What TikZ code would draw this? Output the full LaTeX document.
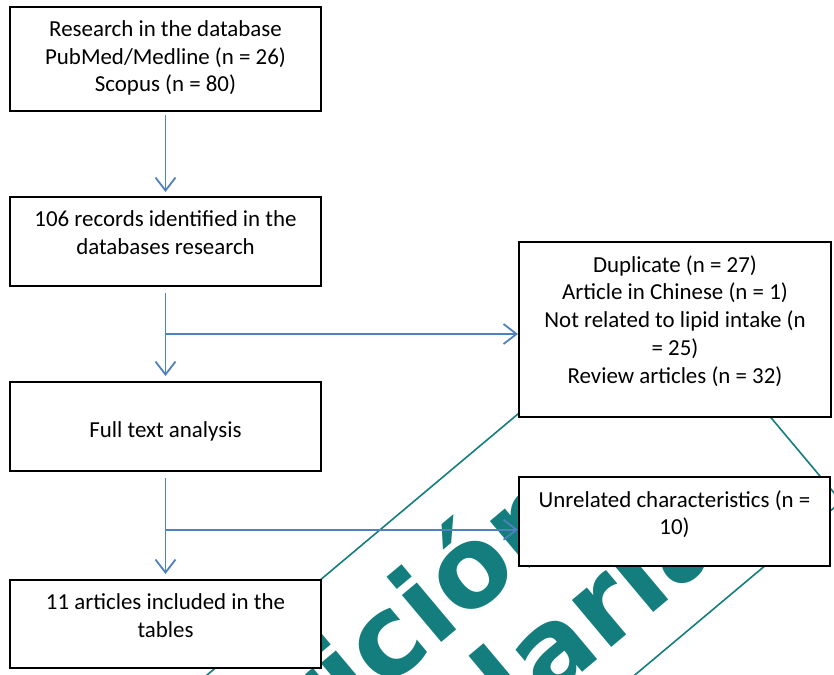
\documentclass[tikz,border=0pt]{standalone}
\usepackage{fontspec}
\setmainfont{Carlito}
\newfontfamily\markfont{DejaVu Sans}
\usetikzlibrary{calc}
\usetikzlibrary{arrows.meta}

\definecolor{flowblue}{RGB}{79,129,189}
\definecolor{markteal}{RGB}{20,125,125}

\tikzset{
 box/.style={draw=black, line width=1pt, fill=white, minimum width=155.5pt},
 boxtext/.style={anchor=north, align=center, inner sep=0pt},
 flow/.style={draw=flowblue, line width=0.9pt, -{Straight Barb[length=6.5pt,width=10pt]}},
 stamp/.style={markteal, rotate=40, anchor=base east, inner sep=0pt, font=\markfont\bfseries\fontsize{56}{56}\selectfont}
}

\begin{document}
\begin{tikzpicture} [x=0.5pt, y=-0.5pt, font=\fontsize{11.45}{13.9}\selectfont]
\useasboundingbox (0,0) rectangle (834,674);
% watermark behind the chart
\begin{scope}
 \clip (0,0) rectangle (834,674);
 \draw[markteal, line width=0.8pt] (664.6,290.9) -- (841.4,501.6) -- (75.4,1144.6) -- (-101.4,933.9) -- cycle;
 \node[stamp] (stampA) at (584,523) {Nutrición};
 \node[stamp] (stampB) at (734,545) {Hospitalaria};
\end{scope}

% boxes
\node[box, minimum height=52pt] (research) at (165.5,59) {};
\node[box, minimum height=44.5pt] (records) at (165.5,241.5) {};
\node[box, minimum height=44.5pt] (fulltext) at (165.5,426.5) {};
\node[box, minimum height=44pt] (included) at (165.5,624) {};
\node[box, minimum width=156pt, minimum height=87.5pt] (excluded) at (675,329.5) {};
\node[box, minimum height=44.5pt] (unrelated) at (674.5,521.5) {};

\node[boxtext] (researchtext) at ([yshift=-7pt]research.north) {Research in the database\\PubMed/Medline (n = 26)\\Scopus (n = 80)};
\node[boxtext] (recordstext) at ([yshift=-7pt]records.north) {106 records identified in the\\databases research};
\node[boxtext] (fulltexttext) at ([yshift=-20pt]fulltext.north) {Full text analysis};
\node[boxtext] (includedtext) at ([yshift=-7pt]included.north) {11 articles included in the\\tables};
\node[boxtext] (excludedtext) at ([yshift=-7pt]excluded.north) {Duplicate (n = 27)\\Article in Chinese (n = 1)\\Not related to lipid intake (n\\= 25)\\Review articles (n = 32)};
\node[boxtext] (unrelatedtext) at ([yshift=-7pt]unrelated.north) {Unrelated characteristics (n =\\10)};

\coordinate (split1) at ($(records.south)!0.5!(fulltext.north)$);
\coordinate (split2) at ($(fulltext.south)!0.54!(included.north)$);

\draw[flow, shorten <=1.5pt, shorten >=2pt] (research) -- (records);
\draw[flow, shorten <=3pt, shorten >=2.5pt] (records) -- (fulltext);
\draw[flow] (split1) -- (split1 -| excluded.west);
\draw[flow, shorten <=3pt, shorten >=2.5pt] (fulltext) -- (included);
\draw[flow] (split2) -- (split2 -| unrelated.west);
\end{tikzpicture}
\end{document}
